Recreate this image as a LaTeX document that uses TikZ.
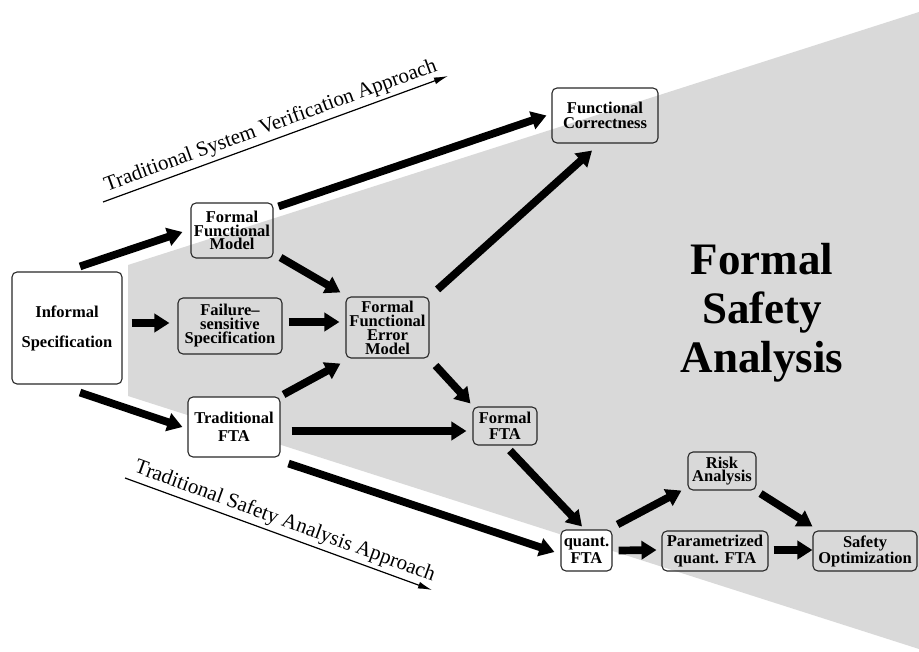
\documentclass[tikz,border=0pt]{standalone}
\usepackage{fontspec}
\setmainfont{Liberation Serif}
\usetikzlibrary{arrows.meta}
\definecolor{bggray}{RGB}{217,217,217}
\definecolor{boxline}{RGB}{40,40,40}
\begin{document}
\begin{tikzpicture}[x=1pt,y=-1pt,
  bs/.style={font=\fontsize{16.5}{#1}\selectfont\bfseries},
  box/.style={draw=boxline, line width=1.1pt, rounded corners=5pt, align=center, inner sep=0pt, bs=14},
  wbox/.style={box, fill=white},
  bigarrow/.style={line width=7.7pt, -{Triangle[length=15pt,width=18pt]}},
  thinarrow/.style={line width=1.2pt, -{Latex[length=14pt,width=7pt]}},
  approach/.style={sloped, above, inner sep=3.5pt, font=\fontsize{21}{24}\selectfont}
]
\useasboundingbox (0,0) rectangle (919,652);
\fill[bggray] (128,265) -- (919,12) -- (919,649) -- (128,396) -- cycle;

\node[font=\fontsize{45}{49}\selectfont\bfseries, align=center] (fsa) at (762,313) {Formal\\Safety\\Analysis};

\node[wbox, minimum width=110pt, minimum height=112pt, bs=30] (inf) at (67,328) {Informal\\Specification};
\node[box, minimum width=82pt, minimum height=55pt, bs=13.5] (ffm) at (232,230.5) {Formal\\Functional\\Model};
\node[box, minimum width=104pt, minimum height=56pt] (fss) at (230,326) {Failure–\\sensitive\\Specification};
\node[box, minimum width=83pt, minimum height=61pt] (ffem) at (387.5,327.5) {Formal\\Functional\\Error\\Model};
\node[wbox, minimum width=92pt, minimum height=60pt, bs=18] (tfta) at (234,427) {Traditional\\FTA};
\node[box, minimum width=106pt, minimum height=55pt, bs=15] (fc) at (605,115.5) {Functional\\Correctness};
\node[box, minimum width=64pt, minimum height=38pt, bs=15.5] (fta) at (505,426) {Formal\\FTA};
\node[wbox, minimum width=51pt, minimum height=41pt, bs=17] (qfta) at (586.5,550.5) {quant.\\FTA};
\node[box, minimum width=106pt, minimum height=40pt, bs=16.5] (pqfta) at (715,551) {Parametrized\\quant. FTA};
\node[box, minimum width=68pt, minimum height=38pt, bs=13.7] (ra) at (722,471) {Risk\\Analysis};
\node[box, minimum width=104pt, minimum height=40pt, bs=13.7] (so) at (865,551) {Safety\\Optimization};

\draw[bigarrow] ([shift={(13,-5)}]inf.north) -- ([shift={(-8,1.5)}]ffm.west);
\draw[bigarrow] ([shift={(9,-5)}]inf.east) -- ([shift={(-8,-3)}]fss.west);
\draw[bigarrow] ([shift={(13,8)}]inf.south) -- ([shift={(-5,0)}]tfta.west);
\draw[bigarrow] ([shift={(5,4)}]ffm.north east) -- ([shift={(-5,0)}]fc.west);
\draw[bigarrow] ([shift={(7,-1)}]ffm.south east) -- ([shift={(-5,-4)}]ffem.north west);
\draw[bigarrow] ([shift={(6,-4)}]fss.east) -- ([shift={(-6,-5.5)}]ffem.west);
\draw[bigarrow] ([shift={(3,-2)}]tfta.north east) -- ([shift={(-5,5)}]ffem.south west);
\draw[bigarrow] ([shift={(8,-7)}]ffem.north east) -- ([shift={(-13,7)}]fc.south);
\draw[bigarrow] ([shift={(6,7)}]ffem.south east) -- ([shift={(-2,-3)}]fta.north west);
\draw[bigarrow] ([shift={(11,4)}]tfta.east) -- ([shift={(-6,5)}]fta.west);
\draw[bigarrow] ([shift={(8,6)}]tfta.south east) -- ([shift={(-6,1.5)}]qfta.west);
\draw[bigarrow] ([shift={(5,5)}]fta.south) -- ([shift={(-4.5,-3)}]qfta.north);
\draw[bigarrow] ([shift={(5,-5)}]qfta.north east) -- ([shift={(-6,0)}]ra.south west);
\draw[bigarrow] ([shift={(6,0)}]qfta.east) -- ([shift={(-5,-1)}]pqfta.west);
\draw[bigarrow] ([shift={(5,-1)}]pqfta.east) -- ([shift={(0,-1)}]so.west);
\draw[bigarrow] ([shift={(4,3)}]ra.south east) -- ([shift={(0,-4)}]so.north west);

\coordinate (tsv1) at (103,202);
\coordinate (tsv2) at (448,76);
\coordinate (tsa1) at (125,478);
\coordinate (tsa2) at (432,590);
\draw[thinarrow] (tsv1) -- node[approach, pos=0.5] (tsvl) {Traditional System Verification Approach} (tsv2);
\draw[thinarrow] (tsa1) -- node[approach, pos=0.505] (tsal) {Traditional Safety Analysis Approach} (tsa2);
\end{tikzpicture}
\end{document}
